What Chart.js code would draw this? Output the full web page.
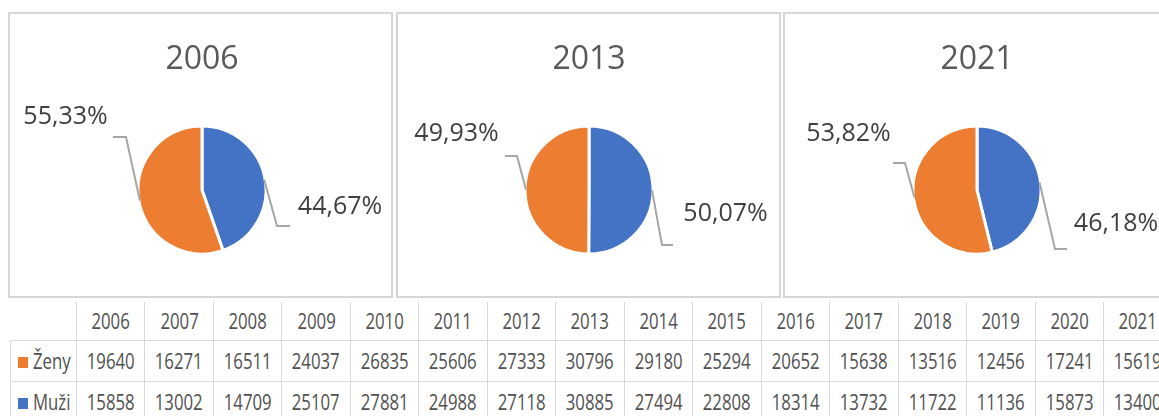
<!DOCTYPE html>
<html>
<head>
<meta charset="utf-8">
<script src="https://cdn.jsdelivr.net/npm/chart.js@4/dist/chart.umd.min.js"></script>
<style>
html,body{margin:0;padding:0;background:#fff;width:1159px;height:416px;overflow:hidden;position:relative;font-family:'Open Sans',sans-serif;}
.panel{position:absolute;top:12px;width:385px;height:286px;box-sizing:border-box;border:2px solid #d6d6d6;background:#fff;overflow:hidden;}
.panel canvas{display:block;}
#tbl{position:absolute;left:10px;top:302px;border-collapse:collapse;table-layout:fixed;width:1161.5px;}
#tbl td{border:1px solid #d9d9d9;padding:0;text-align:center;color:#505050;font-size:21.5px;white-space:nowrap;overflow:hidden;vertical-align:middle;}
#tbl tr.hdr td{border-top:none;}
#tbl td.corner{border-left:none;border-top:none;}
#tbl td.rl{text-align:left;padding-left:7px;}
.t{display:inline-block;transform:scaleX(0.78);transform-origin:center;}
td.rl .t{transform-origin:left center;}
.sq{display:inline-block;width:10px;height:11px;margin-right:5px;vertical-align:middle;position:relative;top:-1px;}
</style>
</head>
<body>
<div id="p0" class="panel" style="left:8px"><canvas id="c0" width="381" height="282"></canvas></div>
<div id="p1" class="panel" style="left:396px"><canvas id="c1" width="381" height="282"></canvas></div>
<div id="p2" class="panel" style="left:783px"><canvas id="c2" width="381" height="282"></canvas></div>
<table id="tbl"></table>
<script>
// ---- data ----
const years = ['2006','2007','2008','2009','2010','2011','2012','2013','2014','2015','2016','2017','2018','2019','2020','2021'];
const zeny  = [19640,16271,16511,24037,26835,25606,27333,30796,29180,25294,20652,15638,13516,12456,17241,15619];
const muzi  = [15858,13002,14709,25107,27881,24988,27118,30885,27494,22808,18314,13732,11722,11136,15873,13400];
const pieYears = ['2006','2013','2021'];
const seriesNames = ['Muži','Ženy'];
const seriesColors = ['#4472C4','#ED7D31'];

// ---- placement of labels / leader lines (style, relative to pie centre) ----
const pieLayouts = [
  {padL:3, padR:0, labels:[{dx:138,dy:17, ex:75,ey:36, tx:88,ty:36},{dx:-136.5,dy:-73, ex:-76,ey:-53, tx:-89,ty:-53}]},
  {padL:1, padR:0, labels:[{dx:136.5,dy:24, ex:73,ey:55, tx:84,ty:55},{dx:-132.5,dy:-56, ex:-72,ey:-34, tx:-84,ty:-34}]},
  {padL:3, padR:0, labels:[{dx:139,dy:34, ex:78,ey:59, tx:90,ty:59},{dx:-128.5,dy:-56, ex:-72,ey:-27, tx:-84,ty:-27}]}
];

const leaderLabels = {
  id:'leaderLabels',
  afterDatasetsDraw(chart, args, opts){
    const ctx = chart.ctx;
    const meta = chart.getDatasetMeta(0);
    const data = chart.data.datasets[0].data;
    const total = data.reduce((a,b)=>a+b,0);
    meta.data.forEach((arc,i)=>{
      const p = arc.getProps(['x','y','startAngle','endAngle','outerRadius'], true);
      const mid = (p.startAngle+p.endAngle)/2;
      const R = p.outerRadius - 1;
      const sx = p.x + Math.cos(mid)*R, sy = p.y + Math.sin(mid)*R;
      const L = opts.labels[i];
      ctx.save();
      ctx.strokeStyle = '#a6a6a6';
      ctx.lineWidth = 2;
      ctx.beginPath();
      ctx.moveTo(sx, sy);
      ctx.lineTo(p.x+L.ex, p.y+L.ey);
      ctx.lineTo(p.x+L.tx, p.y+L.ty);
      ctx.stroke();
      const pct = (data[i]/total*100).toFixed(2).replace('.',',') + '%';
      ctx.font = '25px "Open Sans"';
      ctx.fillStyle = '#404040';
      ctx.textAlign = 'center';
      ctx.textBaseline = 'middle';
      ctx.fillText(pct, p.x+L.dx, p.y+L.dy);
      ctx.restore();
    });
  }
};

pieYears.forEach((yr, k)=>{
  const idx = years.indexOf(yr);
  const lay = pieLayouts[k];
  new Chart(document.getElementById('c'+k), {
    type:'pie',
    data:{
      labels: seriesNames,
      datasets:[{
        data:[muzi[idx], zeny[idx]],
        backgroundColor: seriesColors,
        borderColor:'#ffffff',
        borderWidth:3,
        radius:64
      }]
    },
    options:{
      responsive:false,
      animation:false,
      devicePixelRatio:1,
      layout:{padding:{left:lay.padL,right:lay.padR,top:0,bottom:2.4}},
      plugins:{
        legend:{display:false},
        tooltip:{enabled:false},
        title:{display:true,text:yr,color:'#595959',font:{family:'Open Sans',size:32,weight:'normal'},padding:{top:27,bottom:7}},
        leaderLabels:{labels:lay.labels}
      }
    },
    plugins:[leaderLabels]
  });
});

// ---- data table ----
const tbl = document.getElementById('tbl');
let html = '<colgroup><col style="width:66px">' + years.map(()=>'<col style="width:68.47px">').join('') + '</colgroup>';
html += '<tr class="hdr" style="height:38px"><td class="corner"></td>' + years.map(y=>'<td><span class="t">'+y+'</span></td>').join('') + '</tr>';
const rows = [[seriesNames[1], seriesColors[1], zeny],[seriesNames[0], seriesColors[0], muzi]];
rows.forEach(r=>{
  html += '<tr style="height:41px"><td class="rl"><span class="sq" style="background:'+r[1]+'"></span><span class="t">'+r[0]+'</span></td>' +
    r[2].map(v=>'<td><span class="t">'+v+'</span></td>').join('') + '</tr>';
});
tbl.innerHTML = html;
</script>
</body>
</html>
